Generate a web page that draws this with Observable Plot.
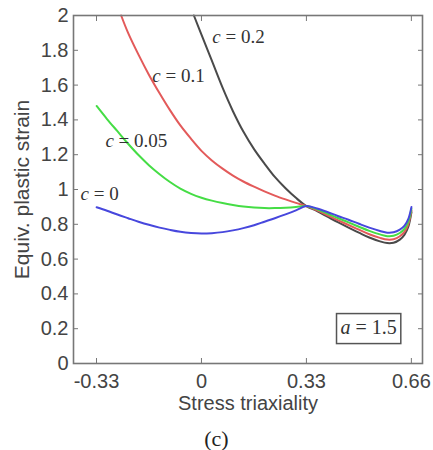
<!DOCTYPE html>
<html>
<head>
<meta charset="utf-8">
<script src="https://cdn.jsdelivr.net/npm/d3@7"></script>
<script src="https://cdn.jsdelivr.net/npm/@observablehq/plot@0.6"></script>
<style>
  html, body { margin: 0; padding: 0; background: #fff; }
  #wrap { width: 433px; height: 450px; position: relative; overflow: hidden; }
  #wrap svg { display: block; }
  #cap { width: 433px; text-align: center; font-family: "Liberation Serif", "Times New Roman", serif; font-size: 22px; line-height: 24px; color: #222; margin-top: 2px; }
</style>
</head>
<body>
<div id="wrap"><div id="chart"></div><div id="cap">(c)</div></div>
<script>
// ---- data ----
const seriesNames = ["c = 0.2", "c = 0.1", "c = 0.05", "c = 0"];

const xBlack = [-0.024, 0, 0.033, 0.067, 0.1, 0.133, 0.167, 0.2, 0.233, 0.267, 0.3, 0.333,
  0.367, 0.4, 0.433, 0.467, 0.5, 0.533, 0.567, 0.59, 0.61, 0.63, 0.645, 0.657, 0.667];
const yBlack = [2.0, 1.89, 1.74, 1.585, 1.45, 1.333, 1.232, 1.149, 1.072, 1.007, 0.952, 0.905,
  0.876, 0.844, 0.812, 0.781, 0.752, 0.724, 0.702, 0.692, 0.694, 0.712, 0.741, 0.786, 0.87];

const xRed = [-0.255, -0.233, -0.2, -0.167, -0.133, -0.1, -0.067, -0.033, 0, 0.033, 0.067, 0.1, 0.133, 0.167, 0.2, 0.233, 0.267, 0.3, 0.333,
  0.367, 0.4, 0.433, 0.467, 0.5, 0.533, 0.567, 0.59, 0.61, 0.63, 0.645, 0.657, 0.667];
const yRed = [2.0, 1.90, 1.775, 1.66, 1.553, 1.456, 1.368, 1.291, 1.222, 1.167, 1.12, 1.08, 1.046, 1.016, 0.989, 0.965, 0.943, 0.923, 0.905,
  0.88, 0.852, 0.824, 0.796, 0.769, 0.743, 0.722, 0.712, 0.714, 0.731, 0.758, 0.801, 0.88];

const xGreen = [-0.333, -0.3, -0.267, -0.233, -0.2, -0.167, -0.133, -0.1, -0.067, -0.033, 0, 0.033, 0.067, 0.1, 0.133, 0.167, 0.2, 0.233, 0.267, 0.3, 0.333,
  0.367, 0.4, 0.433, 0.467, 0.5, 0.533, 0.567, 0.59, 0.61, 0.63, 0.645, 0.657, 0.667];
const yGreen = [1.48, 1.405, 1.335, 1.263, 1.198, 1.14, 1.088, 1.043, 1.005, 0.975, 0.953, 0.936, 0.922, 0.911, 0.902, 0.896, 0.893, 0.893, 0.895, 0.899, 0.905,
  0.886, 0.862, 0.836, 0.811, 0.786, 0.762, 0.742, 0.732, 0.734, 0.75, 0.775, 0.816, 0.89];

const xBlue = [-0.333, -0.3, -0.267, -0.233, -0.2, -0.167, -0.133, -0.1, -0.067, -0.033, 0, 0.033, 0.067, 0.1, 0.133, 0.167, 0.2, 0.233, 0.267, 0.3, 0.333,
  0.367, 0.4, 0.433, 0.467, 0.5, 0.533, 0.567, 0.59, 0.61, 0.63, 0.645, 0.657, 0.667];
const yBlue = [0.898, 0.878, 0.856, 0.835, 0.815, 0.797, 0.781, 0.768, 0.757, 0.75, 0.747, 0.749, 0.755, 0.765, 0.778, 0.795, 0.815, 0.835, 0.857, 0.88, 0.905,
  0.891, 0.871, 0.848, 0.826, 0.803, 0.781, 0.762, 0.752, 0.754, 0.769, 0.792, 0.831, 0.90];

const xTicks = [-1/3, 0, 1/3, 2/3];
const xTickLabels = ["-0.33", "0", "0.33", "0.66"];
const yTicks = [0, 0.2, 0.4, 0.6, 0.8, 1, 1.2, 1.4, 1.6, 1.8, 2];
const yTickLabels = ["0", "0.2", "0.4", "0.6", "0.8", "1", "1.2", "1.4", "1.6", "1.8", "2"];

const labelTexts = ["c = 0.2", "c = 0.1", "c = 0.05", "c = 0"];
const boxText = ["a = 1.5"];

// ---- build table ----
const rows = [];
[[seriesNames[0], xBlack, yBlack], [seriesNames[1], xRed, yRed], [seriesNames[2], xGreen, yGreen], [seriesNames[3], xBlue, yBlue]]
  .forEach(([name, xs, ys]) => xs.forEach((x, i) => rows.push({series: name, x, y: ys[i]})));

// annotation anchors (data coordinates)
const labels = [
  {text: labelTexts[0], x: 0.0345, y: 1.84},
  {text: labelTexts[1], x: -0.156, y: 1.62},
  {text: labelTexts[2], x: -0.305, y: 1.247},
  {text: labelTexts[3], x: -0.384, y: 0.937}
];
const boxLabel = [{text: boxText[0], x: 0.531, y: 0.172}];

const gray = "#777";
const chart = Plot.plot({
  width: 433,
  height: 425,
  marginLeft: 73,
  marginRight: 11,
  marginTop: 15,
  marginBottom: 62,
  style: {fontFamily: "'Liberation Sans', Arial, sans-serif", color: "#444", background: "#fff"},
  x: {domain: [-0.4064, 0.702]},
  y: {domain: [0, 2]},
  color: {domain: seriesNames, range: ["#4a4a4a", "#e35a5a", "#45dd45", "#4747dd"]},
  marks: [
    Plot.line(rows, {x: "x", y: "y", z: "series", stroke: "series", curve: "catmull-rom", strokeWidth: 2}),
    Plot.frame({stroke: gray, strokeWidth: 1.6}),
    Plot.axisY({ticks: yTicks, tickSize: 0, tickPadding: 5, tickFormat: (d, i) => yTickLabels[i], fontSize: 20, label: null}),
    Plot.axisY({ticks: yTicks, tickSize: -5, tickFormat: () => "", stroke: gray, label: null}),
    Plot.axisY({anchor: "right", ticks: yTicks, tickSize: -5, tickFormat: () => "", stroke: gray, label: null}),
    Plot.axisX({ticks: xTicks, tickSize: 0, tickPadding: 10, tickFormat: (d, i) => xTickLabels[i], fontSize: 20, label: null}),
    Plot.axisX({ticks: xTicks, tickSize: -5, tickFormat: () => "", stroke: gray, label: null}),
    Plot.axisX({anchor: "top", ticks: xTicks, tickSize: -5, tickFormat: () => "", stroke: gray, label: null}),
    Plot.text(["Stress triaxiality"], {frameAnchor: "bottom", textAnchor: "middle", lineAnchor: "bottom", dy: 46, fontSize: 20, fill: "#444"}),
    Plot.text(["Equiv. plastic strain"], {frameAnchor: "left", textAnchor: "middle", lineAnchor: "middle", rotate: -90, dx: -51, fontSize: 21, fill: "#444"}),
    Plot.text(labels, {x: "x", y: "y", text: "text", textAnchor: "start", lineAnchor: "bottom", fontSize: 19, fontFamily: "'Liberation Serif', 'Times New Roman', serif", fill: "#333"}),
    Plot.text(boxLabel, {x: "x", y: "y", text: "text", textAnchor: "middle", lineAnchor: "bottom", fontSize: 20, fontFamily: "'Liberation Serif', 'Times New Roman', serif", fill: "#333"})
  ]
});
document.getElementById("chart").appendChild(chart);

// italic variable letters and the box around "a = 1.5"
const ns = "http://www.w3.org/2000/svg";
chart.querySelectorAll("text").forEach(t => {
  const m = /^([ca]) = (.*)$/.exec(t.textContent);
  if (!m || t.children.length) return;
  const isBox = m[1] === "a";
  t.textContent = "";
  const it = document.createElementNS(ns, "tspan");
  it.setAttribute("font-style", "italic");
  it.textContent = m[1];
  t.appendChild(it);
  t.appendChild(document.createTextNode(" = " + m[2]));
  if (isBox) {
    const b = t.getBBox();
    const r = document.createElementNS(ns, "rect");
    r.setAttribute("x", b.x - 4);
    r.setAttribute("y", b.y - 2);
    r.setAttribute("width", b.width + 8);
    r.setAttribute("height", b.height + 8);
    if (t.getAttribute("transform")) r.setAttribute("transform", t.getAttribute("transform"));
    r.setAttribute("fill", "none");
    r.setAttribute("stroke", "#555");
    r.setAttribute("stroke-width", 1.5);
    t.parentNode.insertBefore(r, t);
  }
});
</script>
</body>
</html>
